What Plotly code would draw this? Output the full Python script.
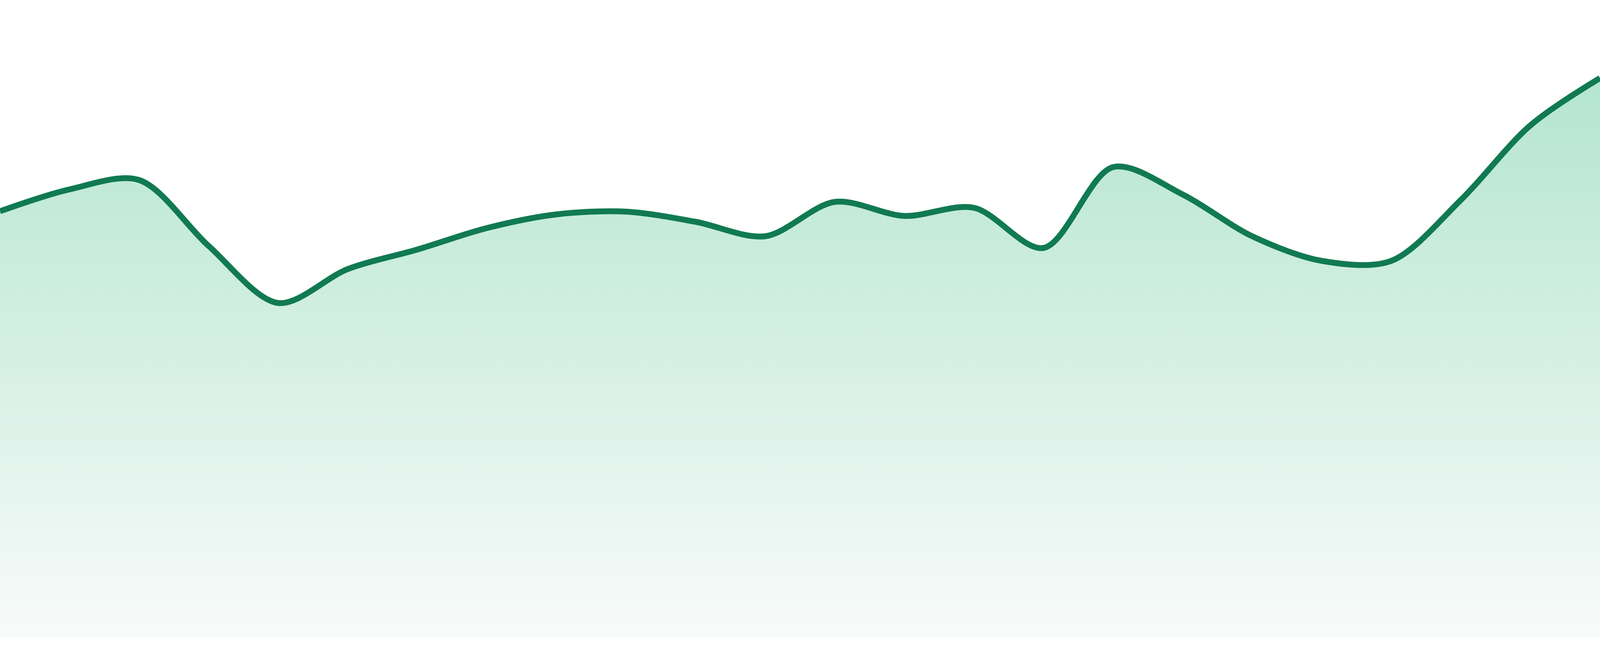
import plotly.graph_objects as go

# one value per period, left to right
periods = list(range(24))
values = [109.1, 114.7, 117.1, 100.2, 85.6, 94.3, 99.3, 104.8,
          108.3, 109.0, 106.4, 102.7, 111.5, 107.9, 110.0, 99.7,
          120.4, 113.4, 102.7, 96.4, 96.4, 112.0, 131.1, 143.2]

line_color = "#117a52"
fill_top = "#b4e5d0"
fill_bottom = "#f8fbfa"

fig = go.Figure()
fig.add_scatter(
    x=periods, y=values, mode="lines",
    line=dict(color=line_color, width=15, shape="spline", smoothing=0.9),
    fill="tozeroy",
    fillgradient=dict(type="vertical",
                      colorscale=[[0, fill_bottom], [1, fill_top]]),
    hoverinfo="skip",
)

fig.update_xaxes(visible=False, range=[0, 23])
fig.update_yaxes(visible=False, range=[0, 163.2])
fig.update_layout(
    autosize=True,
    margin=dict(l=0, r=0, t=0, b=48),
    plot_bgcolor="white", paper_bgcolor="white",
    showlegend=False,
)

# drop the default page margin so the area runs edge to edge
fig.write_html(
    "out.html",
    config={"displayModeBar": False},
    post_script="document.body.style.margin='0';"
                "Plotly.Plots.resize(document.getElementById('{plot_id}'));",
)
